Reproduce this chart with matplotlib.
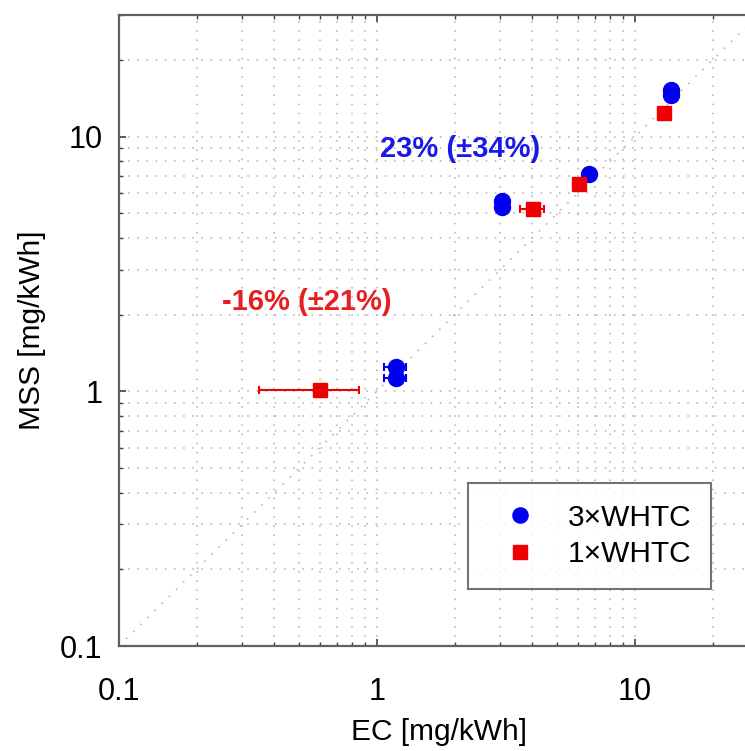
import matplotlib
matplotlib.use("Agg")
import matplotlib.pyplot as plt
import numpy as np

plt.rcParams['font.family'] = ['Liberation Sans', 'DejaVu Sans']

# 3×WHTC measurements (EC vs MSS, mg/kWh)
ec_3x = [1.18, 1.18, 3.05, 3.05, 6.63, 13.8, 13.8]
mss_3x = [1.25, 1.13, 5.6, 5.3, 7.1, 15.3, 14.6]
ec_3x_err = [0.12, 0.12, 0.0, 0.0, 0.0, 0.0, 0.0]

# 1×WHTC measurements
ec_1x = [0.60, 4.02, 6.07, 12.9]
mss_1x = [1.01, 5.19, 6.49, 12.4]
ec_1x_err = [0.25, 0.43, 0.3, 0.5]

labels = ["3×WHTC", "1×WHTC"]
annot_3x = "23% (±34%)"
annot_1x = "-16% (±21%)"

fig = plt.figure(figsize=(7.45, 7.51), dpi=100)
ax = fig.add_axes([0.1597, 0.1398, 0.858, 0.8402])

ax.set_xscale('log')
ax.set_yscale('log')
ax.set_xlim(0.1, 30)
ax.set_ylim(0.1, 30)

dots = (0, (1, 5))

# 1:1 reference line
ax.plot([0.1, 30], [0.1, 30], linestyle=dots, color='#b8b8b8', lw=1.2, zorder=1)

ax.errorbar(ec_3x, mss_3x, xerr=ec_3x_err, fmt='o', color='#0000ee', ms=11.5,
            ecolor='#0000ee', elinewidth=1.5, capsize=3, capthick=1.5,
            label=labels[0], zorder=3)
ax.errorbar(ec_1x, mss_1x, xerr=ec_1x_err, fmt='s', color='#ee0000', ms=10,
            ecolor='#ee0000', elinewidth=1.5, capsize=3, capthick=1.5,
            label=labels[1], zorder=4)

ax.text(2.10, 8.9, annot_3x, color='#1a1ae6', fontsize=21, fontweight='bold',
        ha='center', va='center')
ax.text(0.535, 2.25, annot_1x, color='#e62020', fontsize=21, fontweight='bold',
        ha='center', va='center')

ax.grid(True, which='both', linestyle=dots, color='#b0b0b0', lw=1.1)
ax.set_axisbelow(True)

for s in ax.spines.values():
    s.set_color('#606060')
    s.set_linewidth(1.6)
ax.spines['right'].set_visible(False)

ax.tick_params(which='both', direction='in', top=True, right=False,
               colors='#404040', labelcolor='black', labelsize=22)
ax.tick_params(which='major', length=5, width=1.2)
ax.tick_params(which='minor', length=3, width=1.0)
ax.set_xticks([0.1, 1, 10])
ax.set_xticklabels(['0.1', '1', '10'])
ax.set_yticks([0.1, 1, 10])
ax.set_yticklabels(['0.1', '1', '10'])
ax.tick_params(axis='x', pad=22)
ax.tick_params(axis='y', pad=12)

ax.set_xlabel('EC [mg/kWh]', fontsize=21.5, labelpad=8)
ax.set_ylabel('MSS [mg/kWh]', fontsize=21.5, labelpad=10)

handles, lbls = ax.get_legend_handles_labels()
handles = [h[0] for h in handles]
leg = ax.legend(handles, lbls, loc='upper left', bbox_to_anchor=(0.546, 0.258),
                borderaxespad=0, fontsize=21.5, frameon=True, fancybox=False,
                borderpad=0.68, handletextpad=0.5, labelspacing=0.3,
                handlelength=2.15, markerscale=0.95)
leg.get_frame().set_edgecolor('#505050')
leg.get_frame().set_linewidth(1.5)

fig.savefig('out.png', dpi=100)
